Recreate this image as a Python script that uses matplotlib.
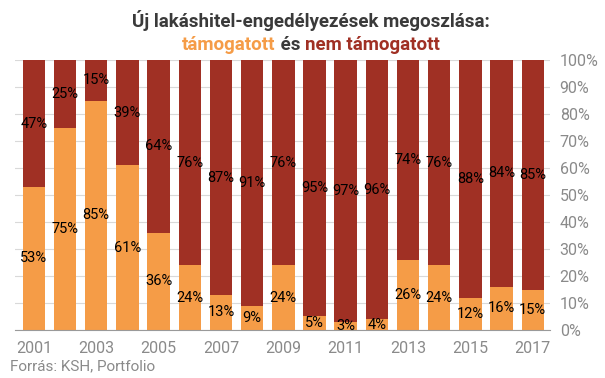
import matplotlib
matplotlib.use('Agg')
import matplotlib.pyplot as plt
import numpy as np

plt.rcParams['font.family'] = ['Roboto', 'DejaVu Sans']

years = list(range(2001, 2018))
supported = [53, 75, 85, 61, 36, 24, 13, 9, 24, 5, 3, 4, 26, 24, 12, 16, 15]
unsupported = [47, 25, 15, 39, 64, 76, 87, 91, 76, 95, 97, 96, 74, 76, 88, 84, 85]

ORANGE = "#F59C47"
RED = "#A03024"
DARK = "#3a3a3a"
GRAY = "#8a8a8a"

fig = plt.figure(figsize=(6.05, 3.78), dpi=100)
ax = fig.add_axes([0.025, 0.127, 0.884, 0.714])

x = np.arange(len(years))
ax.bar(x, supported, width=0.72, color=ORANGE, zorder=2)
ax.bar(x, unsupported, width=0.72, bottom=supported, color=RED, zorder=2)

for i in range(len(years)):
    s, u = supported[i], unsupported[i]
    ax.text(x[i], s / 2, f"{s}%", ha="center", va="center", fontsize=10.5, color="black", zorder=3)
    ax.text(x[i], s + u / 2, f"{u}%", ha="center", va="center", fontsize=10.5, color="black", zorder=3)

ax.set_xlim(-0.6, 16.55)
ax.set_ylim(0, 100)
ax.set_xticks(x[::2])
ax.set_xticklabels([str(y) for y in years[::2]])
ax.set_yticks(range(0, 101, 10))
ax.set_yticklabels([f"{v}%" for v in range(0, 101, 10)])
ax.yaxis.tick_right()
ax.tick_params(axis="both", length=0, labelsize=11.5, colors=GRAY)
ax.tick_params(axis="x", pad=8)
ax.tick_params(axis="y", pad=7)
ax.grid(True, axis="y", color="#d9d9d9", linewidth=0.8, zorder=0)
for sp in ["top", "left", "right"]:
    ax.spines[sp].set_visible(False)
ax.spines["bottom"].set_color("#9a9a9a")
ax.spines["bottom"].set_zorder(3)

fig.text(0.514, 0.945, "Új lakáshitel-engedélyezések megoszlása:", ha="center", va="center",
         fontsize=13.5, fontweight="bold", color=DARK)

# second title line in three colours
parts = [("támogatott", ORANGE), (" és ", DARK), ("nem támogatott", RED)]
fig.canvas.draw()
renderer = fig.canvas.get_renderer()
texts = []
for s, c in parts:
    t = fig.text(0, 0.882, s, ha="left", va="center", fontsize=13.5, fontweight="bold", color=c)
    texts.append(t)
widths = [t.get_window_extent(renderer).width / fig.bbox.width for t in texts]
start = 0.514 - sum(widths) / 2
for t, w in zip(texts, widths):
    t.set_x(start)
    start += w

fig.text(0.017, 0.012, "Forrás: KSH, Portfolio", ha="left", va="bottom", fontsize=11, color=GRAY)

fig.savefig("out.png", dpi=100)
